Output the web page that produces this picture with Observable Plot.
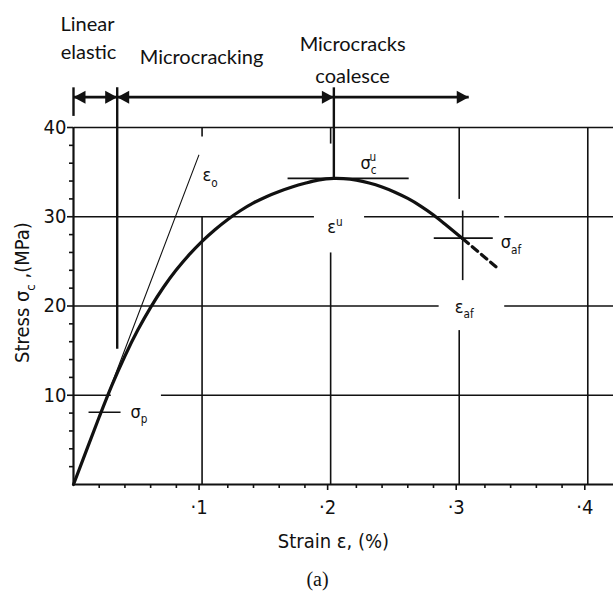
<!DOCTYPE html>
<html>
<head>
<meta charset="utf-8">
<script src="https://cdn.jsdelivr.net/npm/d3@7"></script>
<script src="https://cdn.jsdelivr.net/npm/@observablehq/plot@0.6"></script>
<style>
  html, body { margin: 0; padding: 0; background: #fff; }
</style>
</head>
<body>
<script>
// ---------- data ----------
// stress–strain curve (strain in %, stress in MPa)
const curveStrain = [0, 0.02, 0.03, 0.04, 0.05, 0.06, 0.07, 0.08, 0.09, 0.10, 0.11, 0.12, 0.13, 0.14, 0.15, 0.16, 0.17, 0.18, 0.19, 0.2025, 0.21, 0.22, 0.23, 0.24, 0.25, 0.26, 0.27, 0.28, 0.29, 0.303];
const curveStress = [0, 7.56, 11.16, 14.4, 17.3, 19.85, 22.1, 24.05, 25.75, 27.25, 28.55, 29.7, 30.7, 31.55, 32.25, 32.83, 33.33, 33.75, 34.1, 34.3, 34.27, 34.1, 33.78, 33.33, 32.75, 32.05, 31.2, 30.2, 29.05, 27.5];
// dashed continuation after failure point
const tailStrain = [0.303, 0.331];
const tailStress = [27.5, 24.1];
// initial tangent modulus line E0
const tangentStrain = [0, 0.0975];
const tangentStress = [0, 36.9];

// tick values & labels
const xMajor = [0.1, 0.2, 0.3, 0.4];
const xTickLabels = ["·1", "·2", "·3", "·4"];
const xMinor = [0.02, 0.04, 0.06, 0.08, 0.12, 0.14, 0.16, 0.18, 0.22, 0.24, 0.26, 0.28, 0.32, 0.34, 0.36, 0.38];
const yMajor = [10, 20, 30, 40];
const yTickLabels = ["10", "20", "30", "40"];
const yMinor = [2, 4, 6, 8, 12, 14, 16, 18, 22, 24, 26, 28, 32, 34, 36, 38];

// grid segments (with the gaps of the original drawing)
const hGridY  = [40, 30, 30, 30, 20, 20, 10, 10];
const hGridX1 = [0, 0, 0.226, 0.335, 0, 0.335, 0, 0.068];
const hGridX2 = [0.42, 0.187, 0.331, 0.42, 0.284, 0.42, 0.029, 0.42];
const vGridX  = [0.1, 0.1, 0.2, 0.2, 0.3, 0.3, 0.4];
const vGridY1 = [39.0, 0, 38.2, 0, 32.0, 0, 0];
const vGridY2 = [40, 30, 40, 26.0, 40, 17.3, 40];

// phase boundaries and arrows (top)
const phaseX = [0, 0.034, 0.2025];
const phaseTop = [44.5, 44.5, 44.5];
const phaseBottom = [41.3, 15.2, 34.3];
const arrowY = [43.4, 43.4, 43.4];
const arrowX1 = [0, 0.034, 0.2025];
const arrowX2 = [0.034, 0.2025, 0.3074];
const headX = [0, 0.034, 0.034, 0.2025, 0.3074];
const headY = [43.4, 43.4, 43.4, 43.4, 43.4];
const headRotate = [180, 0, 180, 0, 0];
const phaseText = ["Linear", "elastic", "Microcracking", "Microcracks", "coalesce"];
const phaseTextX = [0.0109, 0.0117, 0.0996, 0.2171, 0.2171];
const phaseTextY = [51.5, 48.4, 47.8, 49.3, 45.7];

// annotation marker segments (σcu, σaf, εaf, σp)
const markX1 = [0.1665, 0.2802, 0.3027, 0.0117];
const markX2 = [0.2607, 0.3261, 0.3027, 0.0366];
const markY1 = [34.3, 27.6, 30.7, 8.1];
const markY2 = [34.3, 27.6, 22.9, 8.1];
// annotation labels ( _ = subscript, ^ = superscript )
const labelText = ["ε_o", "σ_c^u", "ε^u", "σ_{af}", "ε_{af}", "σ_p"];
const labelX = [0.1004, 0.2233, 0.1974, 0.3323, 0.2965, 0.0444];
const labelY = [34.6, 36.0, 28.8, 27.1, 19.9, 8.1];

// axis titles & caption
const xTitle = ["Strain ε, (%)"];
const xTitleX = [0.2022], xTitleY = [-6.45];
const yTitle = ["Stress σ_c ,(MPa)"];
const yTitleX = [-0.0397], yTitleY = [21.5];
const caption = ["(a)"];
const captionX = [0.1898], captionY = [-10.6];

// ---------- helpers ----------
const ink = "#111";
const drafting = "'DejaVu Sans Condensed', 'Liberation Sans Narrow', 'DejaVu Sans', sans-serif";
const arrowHead = {
  draw(ctx) { ctx.moveTo(0, 0); ctx.lineTo(-12, -6.5); ctx.lineTo(-12, 6.5); ctx.closePath(); }
};
const idx = a => a.map((_, i) => i);

const chart = Plot.plot({
  width: 613,
  height: 591,
  marginLeft: 73,
  marginRight: 0,
  marginTop: 127,
  marginBottom: 107,
  x: {domain: [0, 0.42]},
  y: {domain: [0, 40]},
  style: {fontFamily: drafting, background: "#fff", color: ink},
  marks: [
    // grid
    Plot.link(idx(hGridY), {x1: i => hGridX1[i], x2: i => hGridX2[i], y1: i => hGridY[i], y2: i => hGridY[i], stroke: ink, strokeWidth: 1.6}),
    Plot.link(idx(vGridX), {x1: i => vGridX[i], x2: i => vGridX[i], y1: i => vGridY1[i], y2: i => vGridY2[i], stroke: ink, strokeWidth: 1.6}),
    // axes lines
    Plot.ruleY([0], {x1: 0, x2: 0.42, stroke: ink, strokeWidth: 2.2}),
    Plot.ruleX([0], {y1: 0, y2: 40, stroke: ink, strokeWidth: 2.2}),
    // ticks and labels
    Plot.axisX(xMinor, {tickSize: 4, tickFormat: () => "", label: null, strokeWidth: 1.6}),
    Plot.axisX(xMajor, {tickSize: 6, tickPadding: 9, tickFormat: d => xTickLabels[xMajor.indexOf(d)], label: null, fontSize: 20, dx: -3, strokeWidth: 1.6}),
    Plot.axisY(yMinor, {tickSize: 4, tickFormat: () => "", label: null, strokeWidth: 1.6}),
    Plot.axisY(yMajor, {tickSize: 6, tickPadding: 1, tickFormat: d => yTickLabels[yMajor.indexOf(d)], label: null, fontSize: 20, strokeWidth: 1.6}),
    // tangent E0
    Plot.line(idx(tangentStrain), {x: i => tangentStrain[i], y: i => tangentStress[i], stroke: ink, strokeWidth: 1.1}),
    // curve
    Plot.line(idx(curveStrain), {x: i => curveStrain[i], y: i => curveStress[i], stroke: ink, strokeWidth: 3.2, curve: "catmull-rom"}),
    Plot.line(idx(tailStrain), {x: i => tailStrain[i], y: i => tailStress[i], stroke: ink, strokeWidth: 3.2, strokeDasharray: "7,5"}),
    // annotation markers
    Plot.link(idx(markX1), {x1: i => markX1[i], x2: i => markX2[i], y1: i => markY1[i], y2: i => markY2[i], stroke: ink, strokeWidth: 1.6}),
    Plot.text(idx(labelText), {x: i => labelX[i], y: i => labelY[i], text: i => labelText[i], textAnchor: "start", fontSize: 18, fill: ink}),
    // phase boundaries and arrows
    Plot.link(idx(phaseX), {x1: i => phaseX[i], x2: i => phaseX[i], y1: i => phaseTop[i], y2: i => phaseBottom[i], stroke: ink, strokeWidth: 2.4}),
    Plot.link(idx(arrowX1), {x1: i => arrowX1[i], x2: i => arrowX2[i], y1: i => arrowY[i], y2: i => arrowY[i], stroke: ink, strokeWidth: 2.6}),
    Plot.dot(idx(headX), {x: i => headX[i], y: i => headY[i], rotate: i => headRotate[i], symbol: arrowHead, fill: ink, stroke: "none"}),
    Plot.text(idx(phaseText), {x: i => phaseTextX[i], y: i => phaseTextY[i], text: i => phaseText[i], fontFamily: "Lato, 'Open Sans', sans-serif", fontSize: 20, fill: ink}),
    // titles
    Plot.text(xTitle, {x: () => xTitleX[0], y: () => xTitleY[0], text: d => d, fontSize: 20, fill: ink}),
    Plot.text(yTitle, {x: () => yTitleX[0], y: () => yTitleY[0], text: d => d, rotate: -90, fontSize: 20, fill: ink}),
    Plot.text(caption, {x: () => captionX[0], y: () => captionY[0], text: d => d, fontFamily: "'Liberation Serif', 'DejaVu Serif', serif", fontSize: 20, fill: ink})
  ]
});

document.body.appendChild(chart);

// turn _x / ^x markup into real sub/superscript tspans
d3.select(chart).selectAll("text").each(function() {
  const s = this.textContent;
  if (!/[_^]/.test(s)) return;
  const parts = [];
  let i = 0;
  while (i < s.length) {
    const c = s[i];
    if (c === "_" || c === "^") {
      let t;
      if (s[i + 1] === "{") { const j = s.indexOf("}", i); t = s.slice(i + 2, j); i = j + 1; }
      else { t = s[i + 1]; i += 2; }
      parts.push({t, k: c === "_" ? "sub" : "sup"});
    } else {
      let j = i;
      while (j < s.length && s[j] !== "_" && s[j] !== "^") j++;
      parts.push({t: s.slice(i, j), k: "base"});
      i = j;
    }
  }
  const fs = parseFloat(getComputedStyle(this).fontSize) || 16;
  const el = d3.select(this);
  el.text(null);
  let shift = 0, prev = null;
  for (const p of parts) {
    const target = p.k === "sub" ? 0.3 * fs : p.k === "sup" ? -0.42 * fs : 0;
    const ts = el.append("tspan").text(p.t).attr("dy", target - shift).attr("fill", ink);
    shift = target;
    if (p.k !== "base") ts.attr("font-size", 0.65 * fs);
    if (p.k === "sup" && prev === "sub") ts.attr("dx", -0.6 * 0.65 * fs);
    prev = p.k;
  }
});
</script>
</body>
</html>
